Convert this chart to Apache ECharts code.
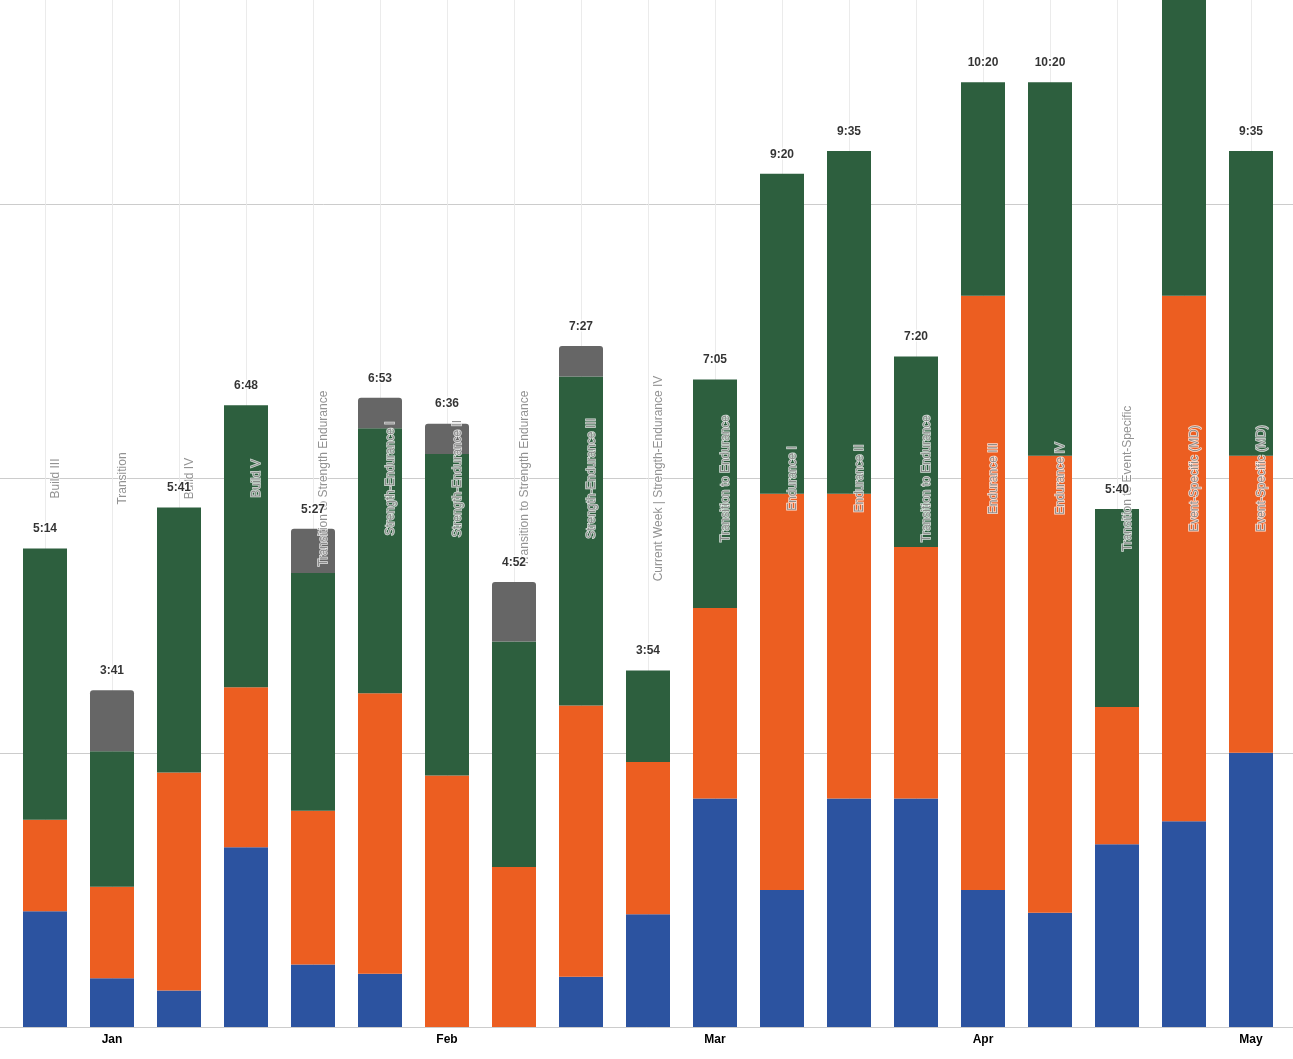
<!DOCTYPE html>
<html><head><meta charset="utf-8">
<script src="https://cdn.jsdelivr.net/npm/echarts@6/dist/echarts.min.js"></script>
<style>html,body{margin:0;padding:0;background:#fff;overflow:hidden}#c{position:absolute;left:0;top:-70px;width:1293px;height:1129px}</style>
</head><body><div id="c"></div>
<script>
// x-axis tick labels (one per week)
const monthLabels = ["", "Jan", "", "", "", "", "Feb", "", "", "", "Mar", "", "", "", "Apr", "", "", "", "May"];
// training phase names per week
const phases = ["Build III","Transition","Build IV","Build V","Transition to Strength Endurance","Strength-Endurance I","Strength-Endurance II","Transition to Strength Endurance","Strength-Endurance III","Current Week | Strength-Endurance IV","Transition to Endurance","Endurance I","Endurance II","Transition to Endurance","Endurance III","Endurance IV","Transition to Event-Specific","Event-Specific (MD)","Event-Specific (MD)"];
// minutes per week, by intensity segment (bottom to top)
const blue   = [76,32,24,118,41,35,0,0,33,74,150,90,150,150,90,75,120,135,180];
const orange = [60,60,143,105,101,184,165,105,178,100,125,260,200,165,390,300,90,345,195];
const green  = [178,89,174,185,156,174,211,148,216,60,150,210,225,125,140,245,130,225,200];
const gray   = [0,40,0,0,29,20,20,39,20,0,0,0,0,0,0,0,0,0,0];
// value axis (minutes)
const yMin = 0, yMax = 720, yInterval = 180;
const phaseLabelLevel = 360;

const totals = blue.map((b, i) => b + orange[i] + green[i] + gray[i]);
const fmt = m => Math.floor(m / 60) + ':' + String(m % 60).padStart(2, '0');
const FONT = 'Liberation Sans, Arial, sans-serif';

const chart = echarts.init(document.getElementById('c'), null, {renderer: 'canvas'});
const barCommon = {type: 'bar', stack: 'a', barWidth: 44, xAxisIndex: 0, yAxisIndex: 0, z: 2};
chart.setOption({
  animation: false,
  backgroundColor: '#ffffff',
  grid: [
    {left: 11.5, right: 8.5, top: 0, bottom: 32},
    {left: 0, right: 0, top: 0, bottom: 32}
  ],
  xAxis: [
    {type: 'category', gridIndex: 0, data: monthLabels,
     axisLine: {show: false}, axisTick: {show: false},
     axisLabel: {show: true, interval: 0, color: '#000', fontWeight: 'bold', fontSize: 12, fontFamily: FONT, margin: 7},
     splitLine: {show: true, alignWithLabel: true, lineStyle: {color: '#ebebeb', width: 1}}},
    {type: 'category', gridIndex: 1, data: monthLabels,
     axisLine: {show: true, lineStyle: {color: '#cccccc', width: 1}}, axisTick: {show: false},
     axisLabel: {show: false}, splitLine: {show: false}}
  ],
  yAxis: [
    {type: 'value', gridIndex: 0, min: yMin, max: yMax, interval: yInterval,
     axisLine: {show: false}, axisTick: {show: false}, axisLabel: {show: false}, splitLine: {show: false}},
    {type: 'value', gridIndex: 1, min: yMin, max: yMax, interval: yInterval,
     axisLine: {show: false}, axisTick: {show: false}, axisLabel: {show: false},
     splitLine: {show: true, lineStyle: {color: '#cccccc', width: 1}}}
  ],
  series: [
    Object.assign({}, barCommon, {name: 'Easy', data: blue, itemStyle: {color: '#2c53a0'}}),
    Object.assign({}, barCommon, {name: 'Moderate', data: orange, itemStyle: {color: '#ec5e21'}}),
    Object.assign({}, barCommon, {name: 'Hard', data: green, itemStyle: {color: '#2d5f3e'}}),
    Object.assign({}, barCommon, {name: 'Other', data: gray, itemStyle: {color: '#666666', borderRadius: [3,3,0,0]}}),
    {type: 'scatter', name: 'phase', xAxisIndex: 0, yAxisIndex: 0, z: 5,
     data: phases.map(() => phaseLabelLevel), symbolSize: 1,
     itemStyle: {color: 'rgba(0,0,0,0)'}, silent: true,
     label: {show: true, position: 'inside', rotate: 90, offset: [0, 11],
       formatter: p => phases[p.dataIndex], color: '#777777', fontSize: 12, fontFamily: FONT,
       textBorderColor: '#ffffff', textBorderWidth: 1.5}},
    {type: 'scatter', name: 'total', xAxisIndex: 0, yAxisIndex: 0, z: 6,
     data: totals, symbolSize: 1, itemStyle: {color: 'rgba(0,0,0,0)'}, silent: true,
     label: {show: true, position: 'top', distance: 13,
       formatter: p => fmt(totals[p.dataIndex]), color: '#000', fontWeight: 'bold', fontSize: 12, fontFamily: FONT,
       textBorderColor: '#ffffff', textBorderWidth: 3}}
  ]
});
</script></body></html>
